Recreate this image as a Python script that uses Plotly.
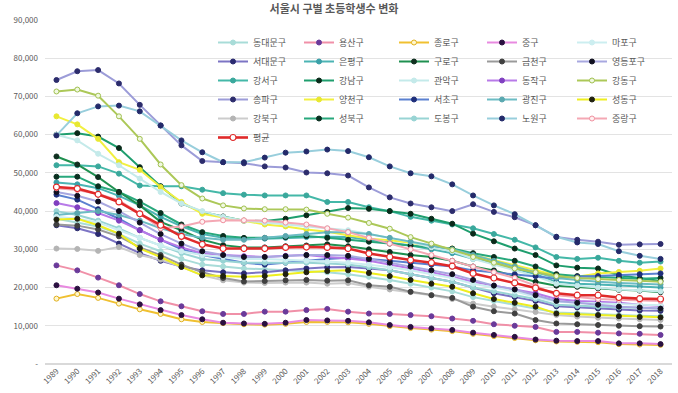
import plotly.graph_objects as go

years = [str(y) for y in range(1989, 2019)]
y_tickvals = [0, 10000, 20000, 30000, 40000, 50000, 60000, 70000, 80000, 90000]
y_ticktext = ["-", "10,000", "20,000", "30,000", "40,000", "50,000", "60,000", "70,000", "80,000", "90,000"]

dongdaemun = [38000, 37000, 36000, 34000, 31500, 29500, 27500, 26000, 25500, 25000, 24800, 24500, 24300, 24000, 23500, 22800, 22000, 21000, 20000, 19000, 17500, 16500, 15500, 14500, 13500, 13300, 13000, 12800, 12600, 12500]
seodaemun = [36300, 35500, 34000, 31500, 29000, 27000, 25500, 24500, 24000, 23700, 24000, 24500, 25000, 25300, 25400, 25000, 24500, 23500, 22500, 21500, 20000, 18500, 17500, 16500, 15100, 14800, 14500, 14200, 14000, 13900]
gangseo = [52000, 52000, 51700, 49800, 46700, 46500, 46500, 45600, 44700, 44300, 44100, 44100, 44100, 42400, 42400, 41000, 40000, 38500, 37500, 36500, 35500, 34000, 32500, 30500, 28000, 27500, 27800, 27000, 26500, 26800]
songpa = [74300, 76600, 76900, 73400, 67800, 62400, 57200, 53100, 52800, 52500, 51700, 51400, 50100, 49900, 49300, 46200, 43600, 42000, 41000, 40000, 41800, 39800, 38400, 36300, 33200, 32500, 32000, 31200, 31300, 31400]
gangbuk = [30200, 30100, 29600, 30600, 28500, 27300, 25400, 23200, 21900, 21300, 21200, 21300, 21300, 21000, 21200, 20200, 19500, 18800, 18000, 17000, 15800, 15000, 14300, 13600, 12800, 12400, 12100, 11900, 11700, 11500]
yongsan = [25800, 24500, 22600, 20600, 18300, 16400, 15100, 13800, 13100, 13100, 13700, 13700, 14100, 14400, 13700, 13200, 13100, 12800, 12500, 11900, 11300, 10400, 10000, 9700, 8400, 8400, 8200, 8000, 7900, 7600]
eunpyeong = [47500, 47000, 46000, 44000, 41500, 38500, 36000, 34000, 33000, 32800, 32800, 33000, 33200, 33300, 33200, 32500, 31800, 31000, 30000, 29000, 27500, 26500, 25000, 23500, 21500, 21000, 20800, 20500, 20300, 20000]
gangnam = [60000, 60400, 59500, 56500, 51500, 46500, 42000, 39800, 38600, 37500, 37400, 38000, 38900, 39800, 40800, 40600, 40000, 39300, 38000, 36700, 34100, 32100, 30200, 28500, 25800, 25200, 25000, 23200, 22400, 21700]
yangcheon = [64800, 62700, 58900, 52800, 50800, 46300, 42400, 39300, 38300, 37500, 36500, 36000, 35200, 34600, 33700, 32800, 32400, 31700, 30800, 30200, 28500, 27200, 25800, 24500, 23200, 22800, 23700, 24100, 24400, 25000]
seongbuk = [49000, 49000, 46500, 45000, 42500, 39500, 36500, 34500, 33500, 33000, 33000, 33200, 33500, 33000, 32500, 32000, 31500, 31000, 30500, 30200, 29000, 28000, 27000, 25500, 23500, 23000, 22800, 22500, 22300, 22500]
jongno = [17100, 18300, 17300, 15800, 14300, 13100, 11700, 11000, 10700, 10400, 10300, 10500, 11000, 11000, 10900, 10500, 9900, 9400, 9000, 8600, 7900, 7300, 6800, 6200, 5900, 5800, 5700, 5200, 5100, 5000]
guro = [54300, 52200, 48900, 45000, 41500, 37200, 35000, 32500, 31100, 30500, 30500, 30800, 31000, 31300, 30800, 30000, 29300, 28500, 28000, 27000, 25500, 24500, 23000, 21500, 20500, 20200, 19800, 19400, 19200, 18800]
gwanak = [60000, 58500, 55000, 52000, 48500, 45000, 42000, 40000, 38500, 37500, 37000, 36500, 36000, 35500, 35000, 34000, 33000, 32000, 30500, 29500, 27500, 26000, 24500, 23000, 21000, 20500, 20000, 19500, 19300, 19000]
seocho = [44300, 43000, 40500, 38000, 35000, 32500, 30000, 28500, 27500, 26500, 26000, 26500, 27000, 27500, 27800, 27500, 27000, 26500, 26000, 25500, 24500, 24000, 23500, 23000, 22400, 22800, 23000, 23300, 23500, 23700]
dobong = [40000, 39000, 37500, 35500, 33000, 31000, 29000, 27500, 27000, 26500, 26500, 26500, 26500, 26300, 26000, 25300, 24500, 23500, 22500, 21500, 20000, 19000, 18000, 17000, 15500, 15200, 15000, 14800, 14700, 14500]
junggu = [20600, 19700, 18700, 17100, 15600, 14100, 12800, 11700, 10800, 10600, 10500, 10800, 11500, 11400, 11300, 10900, 10200, 9700, 9300, 8900, 8200, 7600, 7100, 6400, 6100, 6000, 6000, 5400, 5400, 5200]
geumcheon = [36500, 36200, 35200, 33400, 30500, 28500, 26000, 24000, 22500, 21600, 21700, 21900, 22000, 21800, 21900, 20600, 20200, 18900, 18000, 17300, 15000, 13800, 13200, 11500, 10600, 10400, 10200, 10000, 9900, 9800]
dongjak = [42100, 41000, 39500, 37500, 35000, 32500, 30500, 29000, 28500, 28200, 28000, 28300, 28500, 28000, 27600, 27000, 26000, 25000, 24000, 22800, 21500, 20500, 19500, 18500, 17000, 16500, 16300, 16000, 15500, 15200]
gwangjin = [39000, 39500, 40000, 39000, 37500, 35500, 34000, 33000, 32500, 32500, 33000, 33500, 34000, 34500, 34500, 34000, 33000, 32000, 31000, 30000, 28500, 27000, 25500, 24000, 22500, 22000, 21500, 21200, 21000, 20800]
nowon = [59800, 65600, 67400, 67600, 66100, 62400, 58500, 55400, 52800, 52800, 54000, 55300, 55600, 56100, 55700, 54100, 51700, 49900, 49100, 47000, 44100, 41500, 39200, 36300, 33300, 31800, 31400, 29500, 28300, 27500]
mapo = [38500, 38000, 37000, 35000, 33000, 31000, 29500, 28500, 28000, 27500, 27500, 27300, 27000, 26800, 26500, 26000, 25300, 24500, 23500, 22500, 21000, 20000, 19000, 17500, 16300, 16000, 15800, 15600, 15500, 15400]
yeongdeungpo = [45000, 44000, 42500, 40000, 37000, 34000, 31500, 29500, 28500, 28000, 28000, 28200, 28500, 28500, 28300, 27500, 26500, 25500, 24500, 23500, 22000, 20500, 19500, 18000, 16500, 16000, 15500, 15000, 14800, 14500]
gangdong = [71300, 71800, 70200, 64800, 58900, 52200, 46800, 43300, 41500, 40700, 40500, 40500, 40400, 39300, 38300, 36900, 35400, 33200, 31500, 29800, 28000, 26500, 25000, 24000, 23000, 22500, 22200, 22000, 21800, 21500]
seongdong = [37800, 38000, 36300, 34100, 30200, 28000, 25400, 23200, 23000, 22800, 23000, 23500, 24000, 24300, 24500, 23800, 23000, 22000, 21000, 20200, 18500, 17000, 16000, 15000, 13200, 13000, 12800, 12500, 12300, 12200]
jungnang = [46000, 45500, 44500, 42800, 39400, 35500, 36000, 37200, 37600, 37600, 37500, 37000, 36500, 35500, 34500, 33000, 31500, 30000, 28500, 27000, 25500, 24000, 22500, 20500, 18000, 17500, 17000, 16800, 16600, 16500]
average = [46300, 45900, 44400, 42400, 39300, 36300, 33400, 31300, 30200, 30200, 30200, 30500, 30600, 30500, 30200, 28900, 28000, 27200, 26500, 25600, 23700, 22500, 21200, 19900, 18500, 18000, 18000, 17400, 17100, 17000]

# (name, values, line colour, marker fill, marker outline, legend)
series = [
    ("동대문구", dongdaemun, "#a8dcd8", "#a8dcd8", "#a8dcd8", "legend"),
    ("서대문구", seodaemun, "#7c74c4", "#2a2a70", "#2a2a70", "legend"),
    ("강서구", gangseo, "#44b8a8", "#3aa89c", "#3aa89c", "legend"),
    ("송파구", songpa, "#9c9cd8", "#2c2c6c", "#2c2c6c", "legend"),
    ("강북구", gangbuk, "#cccccc", "#b4b4b4", "#b4b4b4", "legend"),
    ("용산구", yongsan, "#f090a8", "#6a3a9a", "#6a3a9a", "legend2"),
    ("은평구", eunpyeong, "#4cb4b4", "#3aa0a8", "#3aa0a8", "legend2"),
    ("강남구", gangnam, "#1f9e6e", "#0a2a1a", "#0a2a1a", "legend2"),
    ("양천구", yangcheon, "#f2f040", "#e8e830", "#e8e830", "legend2"),
    ("성북구", seongbuk, "#28a87c", "#0a3020", "#0a3020", "legend2"),
    ("종로구", jongno, "#f0c030", "#fff6cc", "#e0b020", "legend3"),
    ("구로구", guro, "#1f9050", "#103020", "#103020", "legend3"),
    ("관악구", gwanak, "#c4eaea", "#c4eaea", "#c4eaea", "legend3"),
    ("서초구", seocho, "#5a80d0", "#1e2e7a", "#1e2e7a", "legend3"),
    ("도봉구", dobong, "#98d4d4", "#98d4d4", "#98d4d4", "legend3"),
    ("중구", junggu, "#e88ae0", "#2a1040", "#2a1040", "legend4"),
    ("금천구", geumcheon, "#9a9a9a", "#404040", "#404040", "legend4"),
    ("동작구", dongjak, "#b87ae8", "#8040c0", "#8040c0", "legend4"),
    ("광진구", gwangjin, "#6cbcc4", "#5aa8b0", "#5aa8b0", "legend4"),
    ("노원구", nowon, "#98cedc", "#232a6a", "#232a6a", "legend4"),
    ("마포구", mapo, "#cceef0", "#cceef0", "#cceef0", "legend5"),
    ("영등포구", yeongdeungpo, "#a8a8e0", "#101020", "#101020", "legend5"),
    ("강동구", gangdong, "#acc858", "#f0f8e0", "#a0c050", "legend5"),
    ("성동구", seongdong, "#eeee20", "#202010", "#202010", "legend5"),
    ("중랑구", jungnang, "#f4a8b4", "#fff0f0", "#f090a0", "legend5"),
    ("평균", average, "#e02a2a", "#ffffff", "#e02a2a", "legend"),
]
assert all(len(s[1]) == 30 for s in series), [s[0] for s in series if len(s[1]) != 30]

fig = go.Figure()
for name, vals, lc, mf, ml, lg in series:
    is_avg = name == "평균"
    fig.add_trace(go.Scatter(
        x=years, y=vals, name=name, mode="lines+markers",
        line=dict(color=lc, width=2.6 if is_avg else 2),
        marker=dict(size=6 if is_avg else 5, color=mf, line=dict(color=ml, width=1.2 if is_avg else 1)),
        legend=lg,
    ))

font_family = "Noto Sans CJK KR, Noto Sans, sans-serif"
L, R, T, B = 45, 6, 20, 29
PW = 678 - L - R
PH = 393 - T - B

def lx(px):
    return (px - L) / PW

leg_top = (364 - 28) / PH
leg_common = dict(orientation="v", yanchor="top", xanchor="left", y=leg_top,
                  bgcolor="rgba(255,255,255,0)", itemwidth=30, tracegroupgap=0,
                  font=dict(size=9, color="#595959", family=font_family))

fig.update_layout(
    width=678, height=393,
    margin=dict(l=L, r=R, t=T, b=B, autoexpand=False),
    paper_bgcolor="white", plot_bgcolor="white",
    font=dict(family=font_family, color="#595959", size=9),
    title=dict(text="<b>서울시 구별 초등학생수 변화</b>", x=334 / 678, xanchor="center",
               y=1 - 9 / 393, yanchor="middle",
               font=dict(size=11, color="#595959", family=font_family)),
    legend=dict(x=lx(213), **leg_common),
    legend2=dict(x=lx(299), **leg_common),
    legend3=dict(x=lx(394), **leg_common),
    legend4=dict(x=lx(482), **leg_common),
    legend5=dict(x=lx(572), **leg_common),
    xaxis=dict(type="category", range=[-0.55, 29.55], tickangle=-45,
               tickfont=dict(size=8, color="#595959"), showgrid=False,
               showline=False, ticks="", automargin=False),
    yaxis=dict(range=[0, 90000], tickvals=y_tickvals, ticktext=y_ticktext,
               tickfont=dict(size=8, color="#595959"), showgrid=True,
               gridcolor="#e3e3e3", gridwidth=1, zeroline=True, zerolinecolor="#d9d9d9",
               showline=False, ticks="", automargin=False, ticklabelstandoff=6),
)

fig.write_html("out.html")
